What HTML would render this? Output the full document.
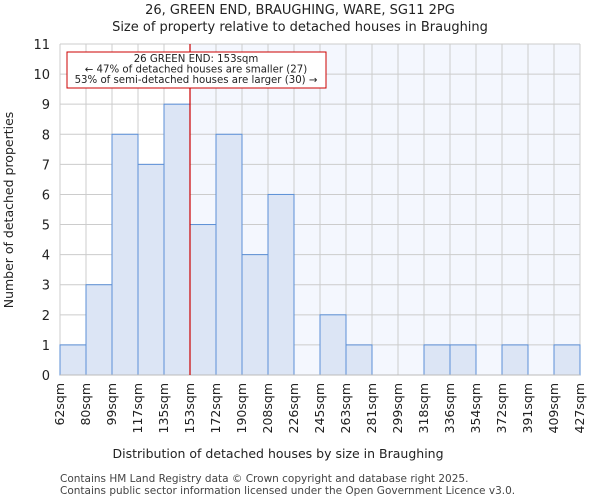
<!DOCTYPE html>
<html><head><meta charset="utf-8"><style>
body{margin:0;background:#fff;font-family:"DejaVu Sans","Liberation Sans",sans-serif;}
</style></head><body>
<svg id="c" width="600" height="500" xmlns="http://www.w3.org/2000/svg" font-family="DejaVu Sans, Liberation Sans, sans-serif">
<text x="300" y="14" text-anchor="middle" font-size="13" fill="#222">26, GREEN END, BRAUGHING, WARE, SG11 2PG</text>
<text x="300" y="31" text-anchor="middle" font-size="13" fill="#222">Size of property relative to detached houses in Braughing</text>
<g id="plot"></g>
<text x="278" y="458" text-anchor="middle" font-size="12.5" fill="#222">Distribution of detached houses by size in Braughing</text>
<text transform="translate(13,210) rotate(-90)" text-anchor="middle" font-size="12.5" fill="#222">Number of detached properties</text>
<text x="60" y="482" font-size="10.5" fill="#444">Contains HM Land Registry data © Crown copyright and database right 2025.</text>
<text x="60" y="494" font-size="10.5" fill="#444">Contains public sector information licensed under the Open Government Licence v3.0.</text>
</svg>
<script>
const categories=["62sqm","80sqm","99sqm","117sqm","135sqm","153sqm","172sqm","190sqm","208sqm","226sqm","245sqm","263sqm","281sqm","299sqm","318sqm","336sqm","354sqm","372sqm","391sqm","409sqm","427sqm"];
const counts=[1,3,8,7,9,5,8,4,6,0,2,1,0,0,1,1,0,1,0,1];
const yTicks=[0,1,2,3,4,5,6,7,8,9,10,11];
const markerIndex=5;
const L=60,R=580,T=44,B=375,yMax=11;
const n=counts.length,bw=(R-L)/n;
const xs=i=>L+i*bw, ys=v=>B-(B-T)*v/yMax;
const NS="http://www.w3.org/2000/svg",g=document.getElementById('plot');
function mk(t,a){const e=document.createElementNS(NS,t);for(const k in a)e.setAttribute(k,a[k]);g.appendChild(e);return e;}
const mx=xs(markerIndex);
let bg=mk('rect',{x:mx,y:T,width:R-mx,height:B-T,fill:'#f4f7fe'});


yTicks.forEach(v=>{
 const l=mk('line',{x1:L,x2:R,y1:ys(v),y2:ys(v),stroke:'#cccccc','stroke-width':1});
 
 
 const t=mk('text',{x:L-10,y:ys(v)+5,'text-anchor':'end','font-size':13,fill:'#222'});
 t.textContent=v;
 
 
});
categories.forEach((c,i)=>{
 const x=xs(i);
 const l=mk('line',{x1:x,x2:x,y1:T,y2:B,stroke:'#cccccc','stroke-width':1});
 
 
 const t=mk('text',{transform:`translate(${x+4},${B+8}) rotate(-90)`,'text-anchor':'end','font-size':12.5,fill:'#222'});
 t.textContent=c;
 
 
});
counts.forEach((v,i)=>{
 if(v<=0)return;
 const r=mk('rect',{x:xs(i),y:ys(v),width:bw,height:B-ys(v),fill:'#dce5f5',stroke:'#5b8fd6','stroke-width':1});
 
 
});
const ax=mk('line',{x1:L,x2:R,y1:B,y2:B,stroke:'#bbb'});


const ml=mk('line',{x1:mx,x2:mx,y1:T,y2:B,stroke:'#cc0000','stroke-width':1.2});


const box=mk('rect',{x:67,y:52,width:259,height:36,fill:'#fff',stroke:'#cc0000','stroke-width':1});


["26 GREEN END: 153sqm","← 47% of detached houses are smaller (27)","53% of semi-detached houses are larger (30) →"].forEach((s,i)=>{
 const t=mk('text',{x:196,y:62+i*10.5,'text-anchor':'middle','font-size':10.2,fill:'#222'});
 t.textContent=s;
 
 
});
</script>
</body></html>
